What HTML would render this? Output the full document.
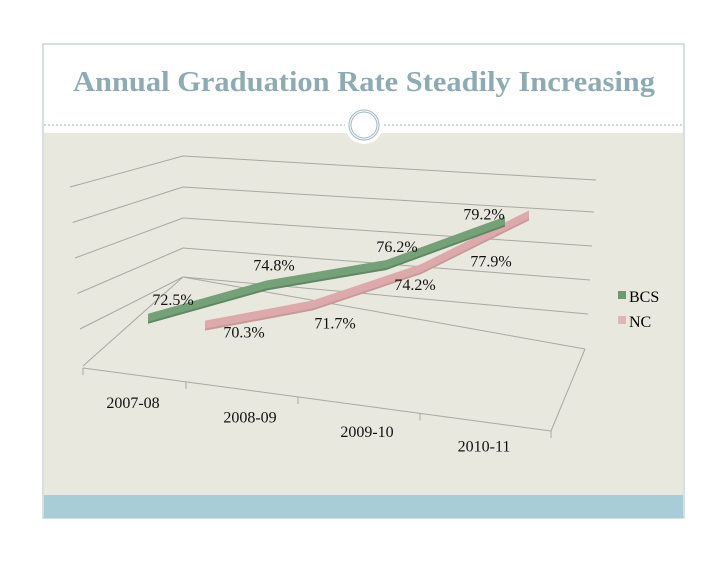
<!DOCTYPE html>
<html><head><meta charset="utf-8"><style>
body{margin:0;width:728px;height:563px;background:#fff;overflow:hidden;font-family:"Liberation Serif",serif}
svg{position:absolute;left:0;top:0}
</style></head><body>
<svg width="728" height="563">
<rect x="43" y="44" width="641" height="474" fill="#fff" stroke="#a9c0c6"/>
<rect x="44" y="133" width="639" height="362" fill="#e9e8df"/>
<rect x="44" y="495" width="639" height="23" fill="#a8cdd6"/>
<text x="73" y="91" textLength="582" lengthAdjust="spacingAndGlyphs" font-size="28" font-weight="bold" fill="#8eaab3">Annual Graduation Rate Steadily Increasing</text>
<line x1="44" y1="125" x2="683" y2="125" stroke="#9fb6be" stroke-dasharray="2,2"/>
<circle cx="364" cy="125" r="19" fill="#fff"/>
<circle cx="364" cy="125" r="15" fill="none" stroke="#9fb6be" stroke-width="1"/>
<circle cx="364" cy="125" r="13" fill="none" stroke="#9fb6be" stroke-width="1"/>
<g id="grid" stroke="#a8a8a0" stroke-width="1" fill="none"></g>
<g id="marks"></g>
<g font-size="16">
<rect x="618" y="291" width="8" height="8" fill="#6e9a72"/>
<text x="629" y="302">BCS</text>
<rect x="618" y="316" width="8" height="8" fill="#e3b4b4"/>
<text x="629" y="327">NC</text>
</g>
</svg>
<script>
const categories = ["2007-08","2008-09","2009-10","2010-11"];
const bcsValues = [72.5,74.8,76.2,79.2];
const ncValues = [70.3,71.7,74.2,77.9];
const bcsLabels = ["72.5%","74.8%","76.2%","79.2%"];
const ncLabels = ["70.3%","71.7%","74.2%","77.9%"];

const NS="http://www.w3.org/2000/svg";
function mk(tag,attrs,parent){const e=document.createElementNS(NS,tag);for(const k in attrs)e.setAttribute(k,attrs[k]);parent.appendChild(e);return e;}
const grid=document.getElementById('grid');
const marks=document.getElementById('marks');
const leftY=[156,187,218,248,277];
const rightY=[180,212,246,280,314];
leftY.forEach((ly,k)=>{
  const l=mk('line',{x1:183,y1:ly,x2:596-k*2,y2:rightY[k]},grid);
  
  
  const w=mk('line',{x1:70+k*2.5,y1:187+k*35.5,x2:183,y2:ly},grid);
  
  
});
[[183,277,585,349],[83,366,183,277],[83,368,551,431],[551,431,585,349]].forEach(c=>{
  const l=mk('line',{x1:c[0],y1:c[1],x2:c[2],y2:c[3]},grid);
  
  
});
function floorY(x){return 368+(x-83)*(63/468);}
const tickXs=[83,186,298,420,551];
tickXs.forEach(tx=>{
  const t=mk('line',{x1:tx,y1:floorY(tx),x2:tx,y2:floorY(tx)+7},grid);
  
  
});
categories.forEach((c,i)=>{
  const t=mk('text',{x:133+i*117,y:408+i*14.5,'text-anchor':'middle','font-size':16,fill:'#111'},marks);
  t.textContent=c;
  
  
});
function pt(s,i,v){
  if(s===0) return [148+119*i, 354-14.5*(v-70)];
  return [205+108*i, 329-14.5*(v-70)];
}
function drawSeries(vals,labels,s,fill,edge,lblOff,name){
  const pts=vals.map((v,i)=>pt(s,i,v));
  const top=pts.map(p=>p[0]+','+(p[1]-4)).join(' ');
  const bot=pts.slice().reverse().map(p=>p[0]+','+(p[1]+4)).join(' ');
  const e=mk('polygon',{points:pts.map(p=>(p[0])+','+(p[1]-1)).join(' ')+' '+pts.slice().reverse().map(p=>p[0]+','+(p[1]+6)).join(' '),fill:edge},marks);
  
  
  const r=mk('polygon',{points:top+' '+bot,fill:fill},marks);
  
  
  pts.forEach((p,i)=>{
    const t=mk('text',{x:p[0]+lblOff[i][0],y:p[1]+lblOff[i][1],'text-anchor':'middle','font-size':16,fill:'#111'},marks);
    t.textContent=labels[i];
    
    
  });
}
drawSeries(ncValues,ncLabels,1,'#dcaaaa','#c99898',[[39,13],[22,24],[-6,22],[-38,52]],'nc');
drawSeries(bcsValues,bcsLabels,0,'#76a079','#5e8862',[[25,-13],[7,-14],[11,-12],[-21,-1]],'bcs');
</script>
</body></html>
